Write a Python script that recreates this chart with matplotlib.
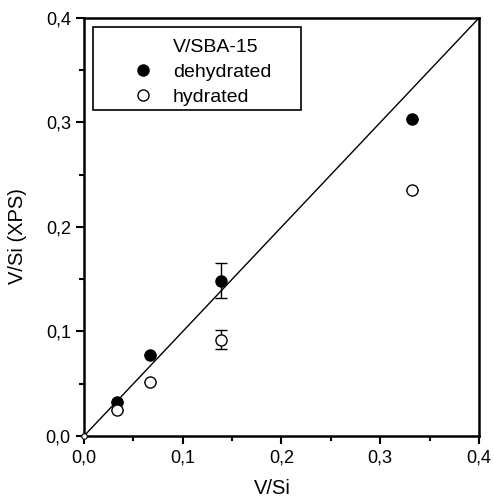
import matplotlib.pyplot as plt
from matplotlib.lines import Line2D
from matplotlib.patches import Rectangle
from matplotlib.ticker import FuncFormatter, MultipleLocator

plt.rcParams['font.family'] = ['Liberation Sans', 'DejaVu Sans']

# V/Si nominal vs V/Si from XPS
x_vals = [0.0338, 0.0672, 0.1385, 0.332]
dehydrated = [0.0325, 0.0775, 0.1486, 0.303]
dehydrated_err = [0, 0, 0.0165, 0]
hydrated = [0.0249, 0.0515, 0.092, 0.235]
hydrated_err = [0, 0, 0.009, 0]
diag = [0.0, 0.4]

fig = plt.figure(figsize=(4.94, 4.98), dpi=100)
ax = fig.add_axes([0.170, 0.1245, 0.7996, 0.8394])

ax.plot(diag, diag, color='black', lw=1)
ax.plot([0], [0], 'o', ms=4, mfc='white', mec='black', mew=0.8, clip_on=False, zorder=5)

ax.errorbar(x_vals, dehydrated, yerr=dehydrated_err, fmt='o', ms=8, mfc='black', mec='black',
            ecolor='black', elinewidth=1, capsize=4, capthick=1, zorder=4)
ax.errorbar(x_vals, hydrated, yerr=hydrated_err, fmt='o', ms=8, mfc='white', mec='black', mew=1,
            ecolor='black', elinewidth=1, capsize=4, capthick=1, zorder=4)

ax.set_xlim(0, 0.4)
ax.set_ylim(0, 0.4)
ax.xaxis.set_major_locator(MultipleLocator(0.1))
ax.yaxis.set_major_locator(MultipleLocator(0.1))
ax.xaxis.set_minor_locator(MultipleLocator(0.05))
ax.yaxis.set_minor_locator(MultipleLocator(0.05))
fmt = FuncFormatter(lambda v, p: f"{v:.1f}".replace('.', ','))
ax.xaxis.set_major_formatter(fmt)
ax.yaxis.set_major_formatter(fmt)
ax.tick_params(which='major', direction='out', length=6, width=1.5, labelsize=13)
ax.tick_params(which='minor', direction='out', length=3.5, width=1.5)
for s in ax.spines.values():
    s.set_linewidth(1.8)

ax.set_xlabel('V/Si', fontsize=14.5)
ax.set_ylabel('V/Si (XPS)', fontsize=14.5)
ax.xaxis.set_label_coords(0.477, -0.103)
ax.yaxis.set_label_coords(-0.144, 0.478)

# legend box drawn separately, the title sits in line with the labels
ax.add_patch(Rectangle((0.0228, 0.780), 0.526, 0.198, transform=ax.transAxes,
                       fill=False, edgecolor='black', lw=1.2, zorder=6))
handles = [Line2D([], [], linestyle='none'),
           Line2D([], [], ls='none', marker='o', ms=8, mfc='black', mec='black'),
           Line2D([], [], ls='none', marker='o', ms=8, mfc='white', mec='black', mew=1)]
labels = ['V/SBA-15', 'dehydrated', 'hydrated']
ax.legend(handles, labels, loc='upper left', bbox_to_anchor=(0.1, 0.950), frameon=False,
          fontsize=14, handlelength=2, handletextpad=0.54, borderpad=0, borderaxespad=0,
          labelspacing=0.36)

fig.savefig('out.png', dpi=100)
